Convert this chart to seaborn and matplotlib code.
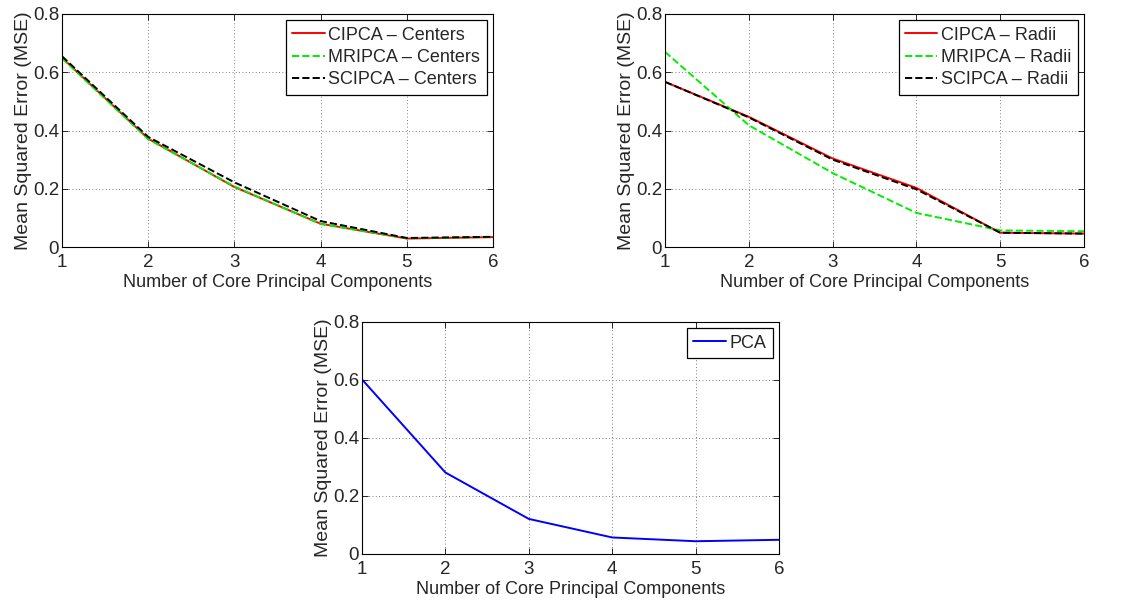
import numpy as np
import pandas as pd
import matplotlib
matplotlib.use("Agg")
import matplotlib.pyplot as plt
import seaborn as sns

x = [1, 2, 3, 4, 5, 6]
cipca_centers = [0.650, 0.372, 0.206, 0.080, 0.029, 0.034]
mripca_centers = [0.648, 0.370, 0.208, 0.079, 0.030, 0.034]
scipca_centers = [0.655, 0.378, 0.222, 0.089, 0.031, 0.035]

cipca_radii = [0.567, 0.447, 0.304, 0.203, 0.049, 0.046]
mripca_radii = [0.670, 0.418, 0.254, 0.117, 0.057, 0.054]
scipca_radii = [0.567, 0.445, 0.300, 0.198, 0.049, 0.046]

pca = [0.602, 0.281, 0.121, 0.057, 0.044, 0.049]

xlabel = "Number of Core Principal Components"
ylabel = "Mean Squared Error (MSE)"

sns.set_style("white")
plt.rcParams['font.family'] = ['Liberation Sans', 'DejaVu Sans']
FS = 13

fig = plt.figure(figsize=(11.46, 6.03), dpi=100)
W, H = 1146, 603
def axpos(l, t, r, b):
    return [l / W, 1 - b / H, (r - l) / W, (b - t) / H]

ax1 = fig.add_axes(axpos(62, 14, 493, 247))
ax2 = fig.add_axes(axpos(665, 14, 1084, 247))
ax3 = fig.add_axes(axpos(362, 322, 779, 554))

def draw(ax, series):
    for label, vals, color, ls in series:
        df = pd.DataFrame({"x": x, "y": vals})
        sns.lineplot(data=df, x="x", y="y", ax=ax, color=color, linestyle=ls,
                     linewidth=1.4, label=label)
    ax.set_xlim(1, 6)
    ax.set_ylim(0, 0.8)
    ax.set_xticks(x)
    ax.set_yticks([0, 0.2, 0.4, 0.6, 0.8])
    ax.set_yticklabels(["0", "0.2", "0.4", "0.6", "0.8"])
    ax.set_xlabel(xlabel, fontsize=FS, labelpad=2)
    ax.set_ylabel(ylabel, fontsize=14, labelpad=1)
    ax.tick_params(direction="in", top=True, right=True, labelsize=13.5,
                   length=4, width=0.7, bottom=True, left=True)
    ax.tick_params(axis="x", pad=5)
    ax.tick_params(axis="y", pad=2)
    ax.grid(True, linestyle=(0, (1, 3)), color="#555555", linewidth=0.6)
    for s in ax.spines.values():
        s.set_color("black")
        s.set_linewidth(0.8)
    leg = ax.legend(loc="upper right", fontsize=FS, frameon=True, fancybox=False,
                    edgecolor="black", borderpad=0.35, labelspacing=0.3,
                    handlelength=1.8, handletextpad=0.2, borderaxespad=0.35)
    leg.get_frame().set_linewidth(0.9)
    leg.get_frame().set_alpha(1)

draw(ax1, [("CIPCA – Centers", cipca_centers, "#ff0000", "-"),
           ("MRIPCA – Centers", mripca_centers, "#00ee00", "--"),
           ("SCIPCA – Centers", scipca_centers, "black", "--")])
draw(ax2, [("CIPCA – Radii", cipca_radii, "#ff0000", "-"),
           ("MRIPCA – Radii", mripca_radii, "#00ee00", "--"),
           ("SCIPCA – Radii", scipca_radii, "black", "--")])
draw(ax3, [("PCA", pca, "#0000ff", "-")])

fig.savefig("out.png", dpi=100)
